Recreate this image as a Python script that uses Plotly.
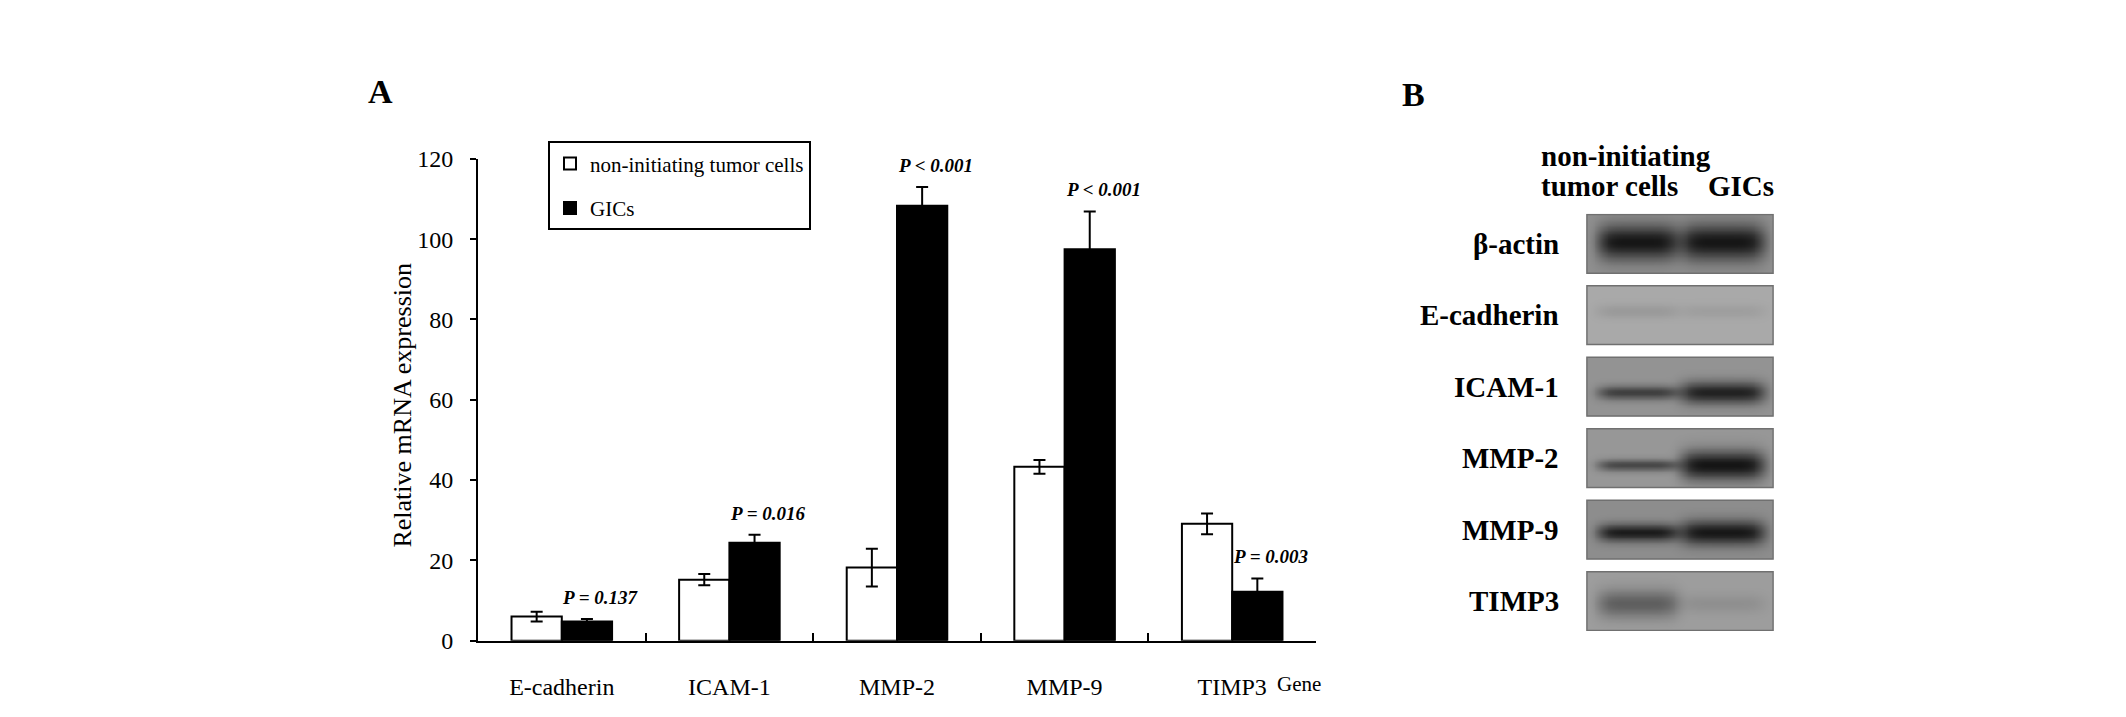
import numpy as np
import plotly.graph_objects as go

# ============================================================
# Data (panel A: qRT-PCR, panel B: western blot)
# ============================================================

genes = ['E-cadherin', 'ICAM-1', 'MMP-2', 'MMP-9', 'TIMP3']
nonint_mean = [6.0, 15.2, 18.2, 43.3, 29.1]
nonint_err = [1.2, 1.4, 4.7, 1.7, 2.6]
gic_mean = [4.8, 24.4, 108.3, 97.5, 12.2]
gic_err = [0.6, 2.0, 4.7, 9.4, 3.3]
p_labels = ['P = 0.137', 'P = 0.016', 'P < 0.001', 'P < 0.001', 'P = 0.003']
y_ticks = [0, 20, 40, 60, 80, 100, 120]

blot_names = ['β-actin', 'E-cadherin', 'ICAM-1', 'MMP-2', 'MMP-9', 'TIMP3']
blot_background = [0.36, 0.23, 0.34, 0.32, 0.37, 0.29]
band_nonint = [0.97, 0.10, 0.65, 0.60, 0.93, 0.45]
band_gic = [0.97, 0.07, 0.88, 0.98, 0.96, 0.10]
band_thick_nonint = [0.30, 0.12, 0.12, 0.10, 0.15, 0.24]
band_thick_gic = [0.31, 0.12, 0.19, 0.25, 0.21, 0.16]
band_pos = [0.47, 0.43, 0.60, 0.62, 0.55, 0.54]

W, H = 2126, 717
SERIF = 'Liberation Serif'

fig = go.Figure()

# --- Panel A bars ---
fig.add_trace(go.Bar(
    x=genes, y=nonint_mean, name='non-initiating tumor cells',
    marker=dict(color='white', line=dict(color='black', width=2)),
    error_y=dict(type='data', array=nonint_err, color='black', thickness=2, width=6),
    legendgroup='a',
))
fig.add_trace(go.Bar(
    x=genes, y=gic_mean, name='GICs',
    marker=dict(color='black', line=dict(color='black', width=2)),
    error_y=dict(type='data', array=gic_err, color='black', thickness=2, width=6),
    legendgroup='b',
))

# p-values above the GIC bars
for i, (g, m, e, p) in enumerate(zip(genes, gic_mean, gic_err, p_labels)):
    fig.add_annotation(
        x=i + 0.23, y=m + e, xref='x', yref='y',
        text='<b><i>%s</i></b>' % p, showarrow=False,
        xanchor='center', yanchor='bottom', yshift=9,
        font=dict(family=SERIF, size=19, color='black'),
    )

# --- Panel B blots (rendered as heatmaps) ---
xs = np.linspace(0, 1, 100)
lane_centres = [0.27, 0.73]
lane_half = [0.22, 0.23]
for i, name in enumerate(blot_names):
    ys = np.linspace(i, i + 0.8, 36)
    X, Y = np.meshgrid(xs, (ys - i) / 0.8)
    z = np.full(X.shape, blot_background[i])
    dens = [band_nonint[i], band_gic[i]]
    thick = [band_thick_nonint[i], band_thick_gic[i]]
    for c, hw, d, t in zip(lane_centres, lane_half, dens, thick):
        prof = np.exp(-((X - c) / hw) ** 6) * np.exp(-((Y - band_pos[i]) / t) ** 2)
        z = z + (1 - blot_background[i]) * d * prof
    z = np.clip(z, 0, 1)
    fig.add_trace(go.Heatmap(
        x=xs, y=ys, z=z, xaxis='x2', yaxis='y2',
        colorscale=[[0, '#d6d6d6'], [1, '#121212']], zmin=0, zmax=1,
        zsmooth='best', showscale=False, hoverinfo='skip', showlegend=False,
    ))
    fig.add_shape(type='rect', xref='x2', yref='y2', x0=-0.005, x1=1.005,
                  y0=i - 0.011, y1=i + 0.811,
                  line=dict(color='#707070', width=1.5))
    fig.add_annotation(
        x=1553 / W, y=i + 0.4, xref='paper', yref='y2',
        xanchor='right', yanchor='middle',
        text='<b>%s</b>' % name, showarrow=False,
        font=dict(family=SERIF, size=29, color='black'),
    )

# --- Text labels ---
def label(x, y, text, size, bold=False, xanchor='center', angle=0):
    fig.add_annotation(
        x=x / W, y=1 - y / H, xref='paper', yref='paper',
        xanchor=xanchor, yanchor='middle', textangle=angle,
        text='<b>%s</b>' % text if bold else text, showarrow=False,
        font=dict(family=SERIF, size=size, color='black'),
    )

label(372, 73, 'A', 34, bold=True)
label(1405, 76, 'B', 34, bold=True)
label(1531, 140, 'non-initiating', 29, bold=True, xanchor='left')
label(1531, 171, 'tumor cells', 29, bold=True, xanchor='left')
label(1698, 171, 'GICs', 29, bold=True, xanchor='left')
label(1267, 688, 'Gene', 21, xanchor='left')
label(395, 399, 'Relative mRNA expression', 26, angle=-90)

# ============================================================
# Layout
# ============================================================

fig.update_layout(
    width=W, height=H,
    margin=dict(l=0, r=0, t=0, b=0),
    paper_bgcolor='white', plot_bgcolor='white',
    barmode='group', bargap=0.4, bargroupgap=0,
    font=dict(family=SERIF, color='black'),
    xaxis=dict(
        domain=[470 / W, 1308 / W], type='category',
        range=[-0.5, 4.5], showline=True, linecolor='black', linewidth=2,
        ticks='inside', tickson='boundaries', ticklen=8, tickwidth=2,
        tickcolor='black', showgrid=False, zeroline=False,
        tickfont=dict(family=SERIF, size=24, color='black'), ticklabelstandoff=24,
    ),
    yaxis=dict(
        domain=[1 - 643 / H, 1 - 143 / H], range=[0, 120],
        tickvals=y_ticks, showline=True, linecolor='black', linewidth=2,
        ticks='outside', ticklen=6, tickwidth=2, tickcolor='black',
        showgrid=False, zeroline=False,
        tickfont=dict(family=SERIF, size=24, color='black'), ticklabelstandoff=12,
    ),
    xaxis2=dict(domain=[1578 / W, 1766 / W], range=[-0.01, 1.01],
                visible=False, anchor='y2'),
    yaxis2=dict(domain=[1 - 633 / H, 1 - 200 / H], range=[5.82, -0.02],
                visible=False, anchor='x2'),
    legend=dict(
        x=540 / W, y=1 - 125 / H, xanchor='left', yanchor='top',
        bgcolor='white', bordercolor='black', borderwidth=2,
        font=dict(family=SERIF, size=21, color='black'),
        tracegroupgap=14, itemwidth=30,
    ),
    showlegend=True,
)

fig.write_html('out.html')
